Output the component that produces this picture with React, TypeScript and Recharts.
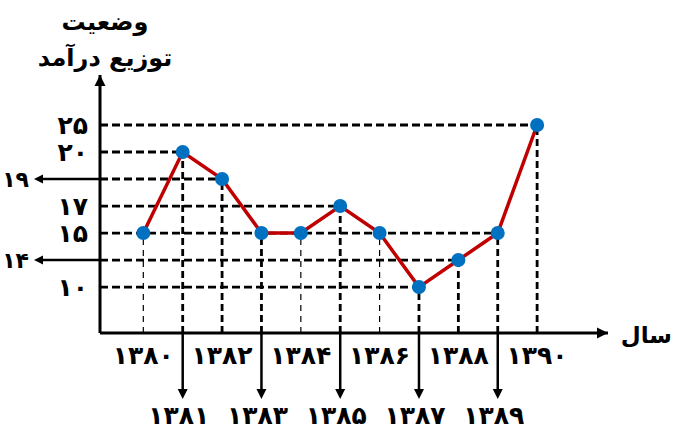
import { Line, LineChart, ReferenceLine, XAxis, YAxis } from "recharts";

const years = [1380, 1381, 1382, 1383, 1384, 1385, 1386, 1387, 1388, 1389, 1390];
const incomeIndex = [15, 20, 19, 15, 15, 17, 15, 10, 14, 15, 25];
const yTickValues = [10, 15, 17, 20, 25];
const sideTickValues = [19, 14];
const thinGuideYears = [1380, 1384, 1386];

const X_MIN = 1378.9;
const X_MAX = 1391.8;
const Y_MIN = 0;
const Y_MAX = 30;

// the y axis of the original is drawn by level, not to scale
const STEPS_BELOW = 1.7;
const STEPS_ABOVE = 1.85;

const FONT = "'DejaVu Sans', sans-serif";
const LABEL_SIZE = 25;

const data = years.map((year, i) => ({ year, value: incomeIndex[i] }));
const levels = Array.from(new Set(incomeIndex)).sort((a, b) => a - b);
const hGuides = levels.map((v) => ({
  value: v,
  lastYear: Math.max(...data.filter((d) => d.value === v).map((d) => d.year)),
}));

const toFa = (n: number | string) =>
  String(n).replace(/[0-9]/g, (d) => "۰۱۲۳۴۵۶۷۸۹"[Number(d)]);

function levelIndex(v: number) {
  const n = levels.length;
  if (v <= levels[0]) return (-STEPS_BELOW * (levels[0] - v)) / (levels[0] - Y_MIN);
  if (v >= levels[n - 1]) return n - 1 + (STEPS_ABOVE * (v - levels[n - 1])) / (Y_MAX - levels[n - 1]);
  for (let i = 1; i < n; i++) {
    if (v <= levels[i]) return i - 1 + (v - levels[i - 1]) / (levels[i] - levels[i - 1]);
  }
  return n - 1;
}

function levelScale(d0: number[] = [Y_MIN, Y_MAX], r0: number[] = [0, 1]): any {
  let dom = d0.slice();
  let rng = r0.slice();
  const scale: any = (v: any) => {
    const u0 = levelIndex(Number(dom[0]));
    const u1 = levelIndex(Number(dom[1]));
    return rng[0] + ((levelIndex(Number(v)) - u0) / (u1 - u0)) * (rng[1] - rng[0]);
  };
  scale.domain = (d?: number[]) => {
    if (d === undefined) return dom.slice();
    dom = d.slice();
    return scale;
  };
  scale.range = (r?: number[]) => {
    if (r === undefined) return rng.slice();
    rng = r.slice();
    return scale;
  };
  scale.copy = () => levelScale(dom, rng);
  scale.ticks = () => yTickValues;
  scale.tickFormat = () => (v: any) => String(v);
  return scale;
}

const arrowPoints = (x1: number, y1: number, x2: number, y2: number, len = 10, half = 5) => {
  const dx = x2 - x1;
  const dy = y2 - y1;
  const l = Math.hypot(dx, dy) || 1;
  const ux = dx / l;
  const uy = dy / l;
  const bx = x2 - ux * len;
  const by = y2 - uy * len;
  return `${x2},${y2} ${bx - uy * half},${by + ux * half} ${bx + uy * half},${by - ux * half}`;
};

const AxisArrow = (p: any) => (
  <g>
    <line x1={p.x1} y1={p.y1} x2={p.x2} y2={p.y2} stroke="#000" strokeWidth={3} />
    <polygon points={arrowPoints(p.x1, p.y1, p.x2, p.y2, 11, 5.5)} fill="#000" />
  </g>
);

const hGuideShape = (value: number) => (p: any) => (
  <g>
    <line x1={p.x1} y1={p.y1} x2={p.x2} y2={p.y2} stroke="#000" strokeWidth={2.8} strokeDasharray="8 4" />
    {sideTickValues.includes(value) && (
      <g>
        <line x1={p.x1} y1={p.y1} x2={p.x1 - 58} y2={p.y1} stroke="#000" strokeWidth={2.5} />
        <polygon points={arrowPoints(p.x1, p.y1, p.x1 - 66, p.y1, 9, 4.5)} fill="#000" />
        <text
          x={p.x1 - 71}
          y={p.y1}
          textAnchor="end"
          dominantBaseline="central"
          fontFamily={FONT}
          fontWeight="bold"
          fontSize={22}
          fill="#000"
        >
          {toFa(value)}
        </text>
      </g>
    )}
  </g>
);

const vGuideShape = (thin: boolean) => (p: any) => (
  <line
    x1={p.x1}
    y1={p.y1}
    x2={p.x2}
    y2={p.y2}
    stroke="#000"
    strokeWidth={thin ? 1.2 : 2.8}
    strokeDasharray={thin ? "6 5" : "7 4"}
  />
);

const YearTick = (props: any) => {
  const { x, y, payload } = props;
  const year = Number(payload.value);
  const textProps = {
    textAnchor: "middle" as const,
    dominantBaseline: "central" as const,
    fontFamily: FONT,
    fontWeight: "bold",
    fontSize: LABEL_SIZE,
    fill: "#000",
  };
  if (year % 2 === 0) {
    return (
      <text x={x} y={y + 22} {...textProps}>
        {toFa(year)}
      </text>
    );
  }
  return (
    <g>
      <line x1={x} y1={y} x2={x} y2={y + 57} stroke="#000" strokeWidth={2.5} />
      <polygon points={arrowPoints(x, y, x, y + 66, 10, 5)} fill="#000" />
      <text x={x - 4} y={y + 82} {...textProps}>
        {toFa(year)}
      </text>
    </g>
  );
};

export default function App() {
  return (
    <div style={{ position: "absolute", left: 0, top: 0, width: 675, height: 434, background: "#fff" }}>
      <div
        style={{
          position: "absolute",
          left: 25,
          top: 4,
          width: 160,
          textAlign: "center",
          direction: "rtl",
          fontFamily: FONT,
          fontWeight: "bold",
          fontSize: 24,
          lineHeight: "36px",
          color: "#000",
        }}
      >
        <div>وضعیت</div>
        <div>توزیع درآمد</div>
      </div>
      <div
        style={{
          position: "absolute",
          right: 3,
          top: 322,
          width: 60,
          textAlign: "right",
          direction: "rtl",
          fontFamily: FONT,
          fontWeight: "bold",
          fontSize: 23,
          color: "#000",
        }}
      >
        سال
      </div>
      <LineChart
        width={675}
        height={434}
        data={data}
        margin={{ top: 75, right: 67, bottom: 0, left: 40 }}
      >
        <XAxis
          type="number"
          dataKey="year"
          domain={[X_MIN, X_MAX]}
          ticks={years}
          interval={0}
          tick={(p: any) => <YearTick {...p} />}
          tickLine={false}
          axisLine={false}
          tickSize={0}
          tickMargin={0}
          height={101}
        />
        <YAxis
          type="number"
          scale={levelScale()}
          domain={[Y_MIN, Y_MAX]}
          ticks={yTickValues}
          interval={0}
          width={60}
          tickLine={false}
          axisLine={false}
          tickSize={0}
          tickMargin={12}
          tickFormatter={toFa}
          tick={{ fill: "#000", fontSize: LABEL_SIZE, fontWeight: "bold", fontFamily: FONT }}
        />
        {hGuides.map((g) => (
          <ReferenceLine
            key={`h${g.value}`}
            segment={[
              { x: X_MIN, y: g.value },
              { x: g.lastYear, y: g.value },
            ]}
            ifOverflow="visible"
            shape={hGuideShape(g.value)}
          />
        ))}
        {data.map((d) => (
          <ReferenceLine
            key={`v${d.year}`}
            segment={[
              { x: d.year, y: Y_MIN },
              { x: d.year, y: d.value },
            ]}
            ifOverflow="visible"
            shape={vGuideShape(thinGuideYears.includes(d.year))}
          />
        ))}
        <ReferenceLine
          segment={[
            { x: X_MIN, y: Y_MIN },
            { x: X_MAX, y: Y_MIN },
          ]}
          ifOverflow="visible"
          shape={AxisArrow}
        />
        <ReferenceLine
          segment={[
            { x: X_MIN, y: Y_MIN },
            { x: X_MIN, y: Y_MAX },
          ]}
          ifOverflow="visible"
          shape={AxisArrow}
        />
        <Line
          type="linear"
          dataKey="value"
          stroke="#C00000"
          strokeWidth={3.5}
          dot={{ r: 7, fill: "#0070C0", stroke: "none", strokeWidth: 0 }}
          activeDot={false}
          isAnimationActive={false}
        />
      </LineChart>
    </div>
  );
}
